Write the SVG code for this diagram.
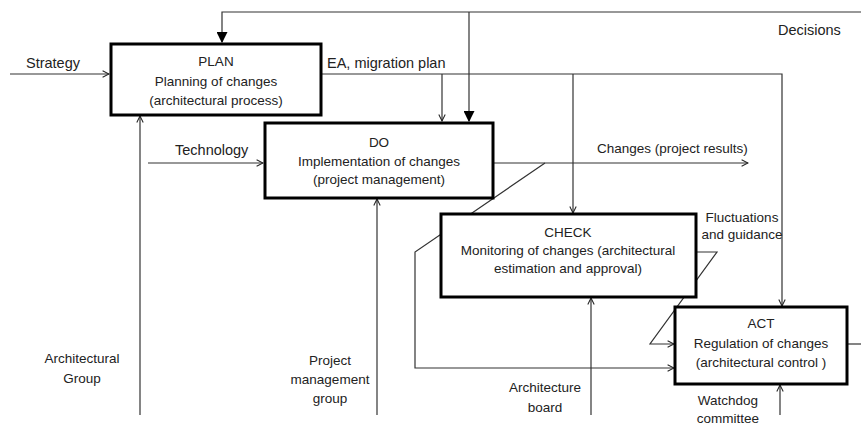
<svg xmlns="http://www.w3.org/2000/svg" width="861" height="427" viewBox="0 0 861 427">
<defs>
<style>
.box{fill:#fff;stroke:#000;stroke-width:3}
.ln{fill:none;stroke:#333;stroke-width:1.2}
text{font-family:"Liberation Sans",Arial,sans-serif;font-size:13.5px;fill:#222}
.c{text-anchor:middle}
.big{font-size:14.5px}
</style>
<marker id="open" viewBox="0 0 10 10" refX="9" refY="5" markerWidth="8" markerHeight="8" markerUnits="userSpaceOnUse" orient="auto">
<path d="M1,1 L9,5 L1,9" fill="none" stroke="#222" stroke-width="1.3"/>
</marker>
<marker id="fill" viewBox="0 0 10 10" refX="9" refY="5" markerWidth="11" markerHeight="11" markerUnits="userSpaceOnUse" orient="auto">
<path d="M0,0 L10,5 L0,10 Z" fill="#000"/>
</marker>
</defs>
<rect width="861" height="427" fill="#fff"/>
<g id="connectors">
<path class="ln" d="M861,12 H222 V42" marker-end="url(#fill)"/>
<path class="ln" d="M469,12 V121" marker-end="url(#fill)"/>
<path class="ln" d="M10,74 H109" marker-end="url(#open)"/>
<path class="ln" d="M322,74 H782 V306" marker-end="url(#open)"/>
<path class="ln" d="M442,74 V121" marker-end="url(#open)"/>
<path class="ln" d="M573,74 V213" marker-end="url(#open)"/>
<path class="ln" d="M148,163 H263" marker-end="url(#open)"/>
<path class="ln" d="M494,163 H748" marker-end="url(#open)"/>
<path class="ln" d="M545,163 L415,252 V368 H674" marker-end="url(#open)"/>
<path class="ln" d="M697,252 H717 L650,344 H674" marker-end="url(#open)"/>
<path class="ln" d="M848,344 H861"/>
<path class="ln" d="M140,415 V116" marker-end="url(#open)"/>
<path class="ln" d="M377,415 V199" marker-end="url(#open)"/>
<path class="ln" d="M591,415 V298" marker-end="url(#open)"/>
<path class="ln" d="M780,415 V385" marker-end="url(#open)"/>
</g>
<g id="plan">
<rect class="box" x="111" y="44" width="210" height="71"/>
<text class="c" x="216" y="66">PLAN</text>
<text class="c" x="216" y="86">Planning of changes</text>
<text class="c" x="216" y="105">(architectural process)</text>
</g>
<g id="do">
<rect class="box" x="265" y="123" width="228" height="75"/>
<text class="c" x="379" y="147">DO</text>
<text class="c" x="379" y="166">Implementation of changes</text>
<text class="c" x="379" y="184">(project management)</text>
</g>
<g id="check">
<rect class="box" x="441" y="214" width="255" height="83"/>
<text class="c" x="568" y="237">CHECK</text>
<text class="c" x="568" y="255">Monitoring of changes (architectural</text>
<text class="c" x="568" y="273">estimation and approval)</text>
</g>
<g id="act">
<rect class="box" x="675" y="307" width="172" height="77"/>
<text class="c" x="761" y="328">ACT</text>
<text class="c" x="761" y="348">Regulation of changes</text>
<text class="c" x="761" y="367">(architectural control )</text>
</g>
<g id="labels">
<text class="big" x="26" y="68">Strategy</text>
<text class="big" x="327" y="68">EA, migration plan</text>
<text class="big" x="778" y="35">Decisions</text>
<text class="big" x="175" y="155">Technology</text>
<text x="597" y="153">Changes (project results)</text>
<text class="c" x="742" y="222">Fluctuations</text>
<text class="c" x="742" y="239">and guidance</text>
<text class="c" x="82" y="363">Architectural</text>
<text class="c" x="82" y="383">Group</text>
<text class="c" x="330" y="365">Project</text>
<text class="c" x="330" y="384">management</text>
<text class="c" x="330" y="403">group</text>
<text class="c" x="545" y="392">Architecture</text>
<text class="c" x="545" y="412">board</text>
<text class="c" x="728" y="405">Watchdog</text>
<text class="c" x="728" y="423">committee</text>
</g>
</svg>
